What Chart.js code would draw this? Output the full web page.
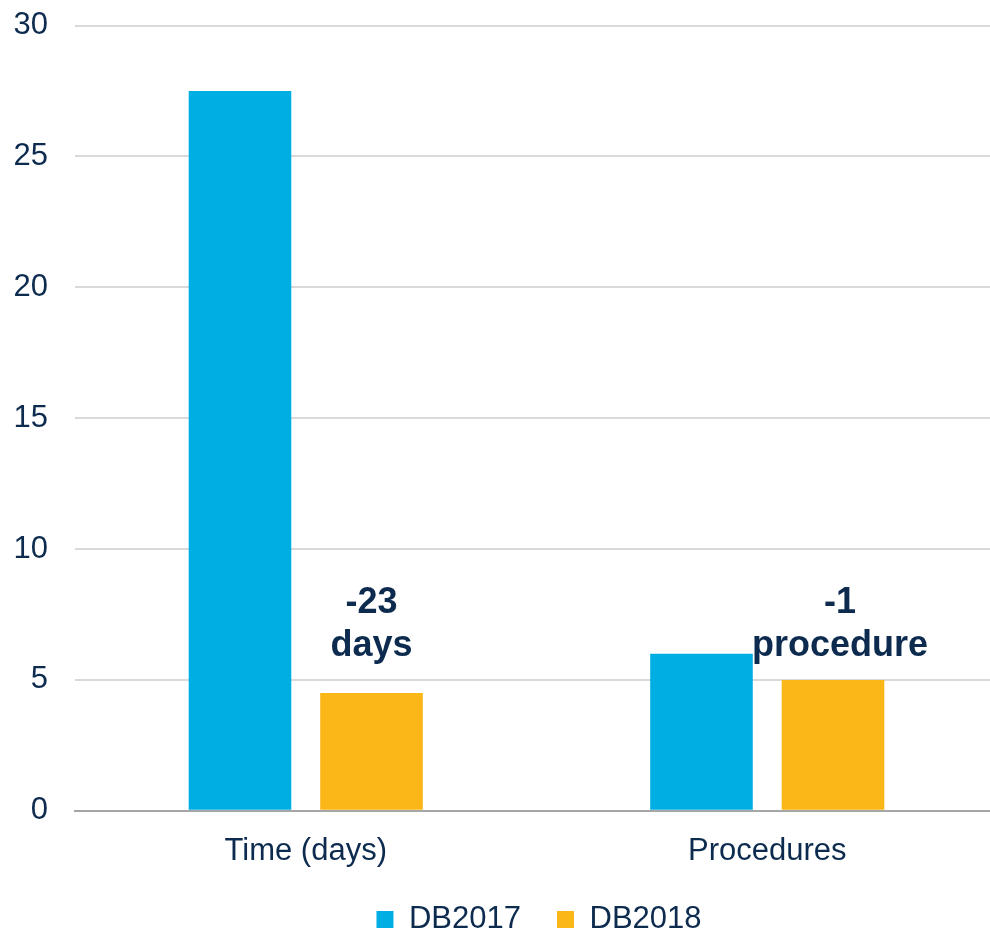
<!DOCTYPE html>
<html>
<head>
<meta charset="utf-8">
<script src="https://cdn.jsdelivr.net/npm/chart.js@4.4.1/dist/chart.umd.min.js"></script>
<style>
  html, body { margin: 0; padding: 0; background: #fff; overflow: hidden; }
  #wrap { width: 990px; height: 932px; overflow: hidden; }
  #chart { display: block; margin-top: -20px; }
</style>
</head>
<body>
<div id="wrap"><canvas id="chart" width="998" height="967"></canvas></div>
<script>
// ======================================================
// DATA
// ======================================================
const categories = ["Time (days)", "Procedures"];
const db2017 = [27.5, 6];
const db2018 = [4.5, 5];
const notes = [["-23", "days"], ["-1", "procedure"]];
const yTicks = [0, 5, 10, 15, 20, 25, 30];

const navy = "#0d2b4e";
const font = "'Liberation Sans', Arial, sans-serif";

// ======================================================
// NOTE LABELS ABOVE DB2018 BARS + LEGEND NUDGE
// ======================================================
const notePlugin = {
  id: "notes",
  afterLayout(chart) {
    // legend sits a bit right of canvas centre and close under the axis labels
    chart.legend.left += 40;
    chart.legend.right += 40;
    chart.legend.top -= 16;
    chart.legend.bottom -= 16;
  },
  afterDatasetsDraw(chart) {
    const ctx = chart.ctx;
    const meta = chart.getDatasetMeta(1);
    const y = chart.scales.y.getPixelForValue(5.92);
    ctx.save();
    ctx.fillStyle = navy;
    ctx.font = "bold 36px " + font;
    ctx.textAlign = "center";
    ctx.textBaseline = "alphabetic";
    notes.forEach((lines, i) => {
      const x = meta.data[i].x + i * 7;
      ctx.fillText(lines[0], x, y - 43);
      ctx.fillText(lines[1], x, y);
    });
    ctx.restore();
  }
};

new Chart(document.getElementById("chart"), {
  type: "bar",
  data: {
    labels: categories,
    datasets: [
      { label: "DB2017", data: db2017, backgroundColor: "#00aee3" },
      { label: "DB2018", data: db2018, backgroundColor: "#fbb617" }
    ]
  },
  options: {
    responsive: false,
    animation: false,
    categoryPercentage: 0.57,
    barPercentage: 0.78,
    layout: { padding: { top: 0, right: 0, left: 0, bottom: -14 } },
    scales: {
      x: {
        grid: { display: false },
        border: { display: true, color: "#a6a6a6", width: 2 },
        ticks: { color: navy, font: { family: font, size: 31 }, padding: 14 }
      },
      y: {
        min: 0,
        max: 30,
        afterBuildTicks: axis => { axis.ticks = yTicks.map(v => ({ value: v })); },
        afterFit: axis => { axis.width = 75; },
        grid: {
          color: c => c.tick.value === 0 ? "#a6a6a6" : "#d9d9d9",
          lineWidth: 2,
          drawTicks: false
        },
        border: { display: false },
        ticks: { color: navy, font: { family: font, size: 31 }, padding: 27 }
      }
    },
    plugins: {
      legend: {
        position: "bottom",
        labels: {
          color: navy,
          font: { family: font, size: 31 },
          boxWidth: 17,
          boxHeight: 17,
          padding: 36
        }
      },
      tooltip: { enabled: false }
    }
  },
  plugins: [notePlugin]
});
</script>
</body>
</html>
